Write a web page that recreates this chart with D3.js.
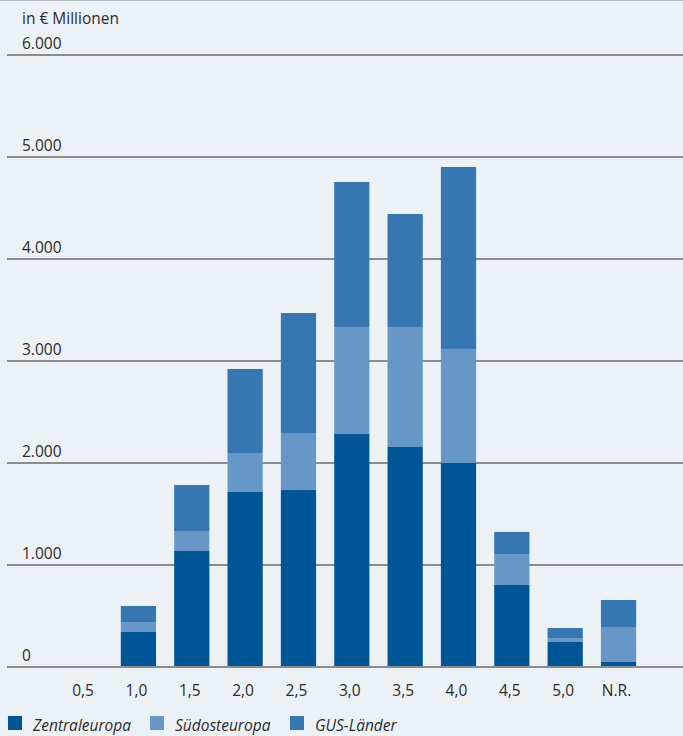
<!DOCTYPE html>
<html>
<head>
<meta charset="utf-8">
<script src="https://cdn.jsdelivr.net/npm/d3@7"></script>
<style>
  html, body { margin: 0; padding: 0; background: #ecf1f6; }
  svg { display: block; }
  text { font-family: "Open Sans", Lato, sans-serif; fill: #2b2b2b; }
</style>
</head>
<body>
<svg id="chart" width="683" height="736"></svg>
<script>
// Rating classes on the x axis
const categories = ["0,5", "1,0", "1,5", "2,0", "2,5", "3,0", "3,5", "4,0", "4,5", "5,0", "N.R."];

// Exposure per region, in € millions
const zentraleuropa = [0, 343, 1137, 1716, 1735, 2284, 2157, 2000, 804, 245, 49];
const suedosteuropa = [0, 98, 196, 382, 559, 1049, 1176, 1118, 304, 39, 343];
const gusLaender    = [0, 157, 451, 824, 1176, 1422, 1108, 1784, 216, 98, 265];

const seriesNames  = ["Zentraleuropa", "Südosteuropa", "GUS-Länder"];
const seriesColors = ["#005596", "#6797c7", "#3676b3"];

const yTicks = [0, 1000, 2000, 3000, 4000, 5000, 6000];
const yTickLabels = ["0", "1.000", "2.000", "3.000", "4.000", "5.000", "6.000"];
const unitLabel = "in € Millionen";

const rows = categories.map((c, i) => ({
  cat: c,
  "Zentraleuropa": zentraleuropa[i],
  "Südosteuropa": suedosteuropa[i],
  "GUS-Länder": gusLaender[i]
}));

const svg = d3.select("#chart");
const W = 683;
const FS = 15.5;

const x = d3.scaleBand()
  .domain(categories)
  .range([58.4, 645.2])
  .paddingInner(0.34)
  .paddingOuter(0.17);

const y = d3.scaleLinear().domain([0, 6000]).range([667, 55]);

// top border
svg.append("line")
  .attr("x1", 0).attr("x2", W).attr("y1", 0.5).attr("y2", 0.5)
  .attr("stroke", "#b9bcc0").attr("stroke-width", 1);

// gridlines with labels above them
const grid = svg.append("g");
yTicks.forEach((t, i) => {
  grid.append("line")
    .attr("x1", 7).attr("x2", W)
    .attr("y1", y(t)).attr("y2", y(t))
    .attr("stroke", "#8a8c8f").attr("stroke-width", 2);
  grid.append("text")
    .attr("x", 22).attr("y", y(t) - 6)
    .attr("font-size", FS)
    .text(yTickLabels[i]);
});

svg.append("text")
  .attr("x", 22).attr("y", 24)
  .attr("font-size", FS)
  .text(unitLabel);

// stacked bars
const stack = d3.stack().keys(seriesNames);
const layers = stack(rows);

svg.append("g").selectAll("g")
  .data(layers)
  .join("g")
  .attr("fill", (d, i) => seriesColors[i])
  .selectAll("rect")
  .data(d => d.map(s => ({ s, cat: s.data.cat })))
  .join("rect")
  .attr("x", d => x(d.cat))
  .attr("width", x.bandwidth())
  .attr("y", d => y(d.s[1]))
  .attr("height", d => y(d.s[0]) - y(d.s[1]));

// redraw the baseline on top of the bars
svg.append("line")
  .attr("x1", 7).attr("x2", W)
  .attr("y1", y(0)).attr("y2", y(0))
  .attr("stroke", "#8a8c8f").attr("stroke-width", 2);

// x axis labels
svg.append("g").selectAll("text")
  .data(categories)
  .join("text")
  .attr("x", d => x(d) + x.bandwidth() / 2 - 2)
  .attr("y", 696)
  .attr("text-anchor", "middle")
  .attr("font-size", FS)
  .text(d => d);

// legend
const legendX = [8, 150, 290];
const legend = svg.append("g");
seriesNames.forEach((name, i) => {
  legend.append("rect")
    .attr("x", legendX[i]).attr("y", 716)
    .attr("width", 14).attr("height", 14)
    .attr("fill", seriesColors[i]);
  legend.append("text")
    .attr("x", legendX[i] + 25).attr("y", 731)
    .attr("font-size", FS)
    .attr("font-style", "italic")
    .text(name);
});
</script>
</body>
</html>
